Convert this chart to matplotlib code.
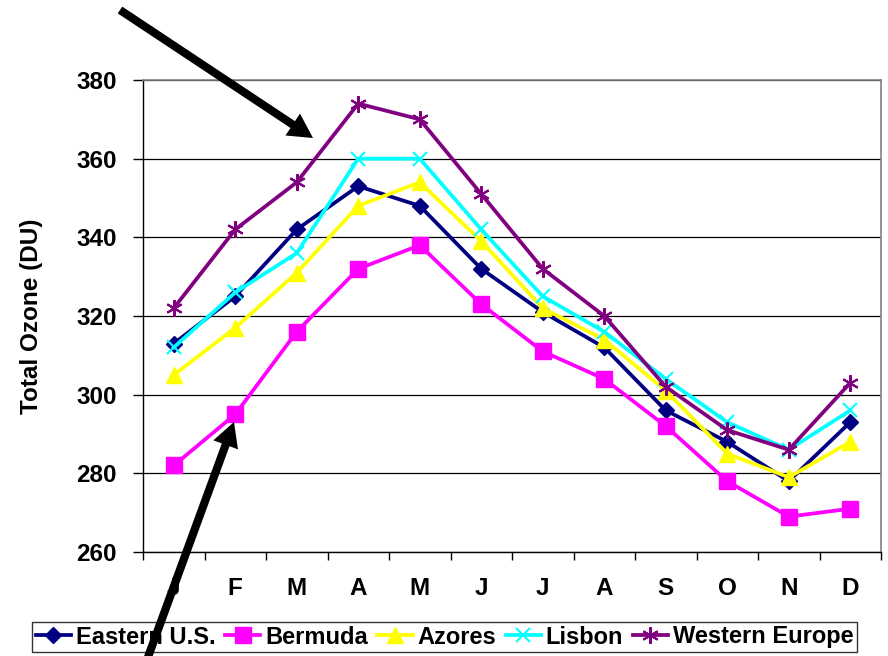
import matplotlib
matplotlib.use('Agg')
import matplotlib.pyplot as plt
from matplotlib.patches import FancyArrowPatch
from matplotlib.ticker import FixedLocator

plt.rcParams['font.family'] = ['Liberation Sans', 'DejaVu Sans']
plt.rcParams['font.weight'] = 'bold'

# monthly mean total ozone (DU)
months = ['J', 'F', 'M', 'A', 'M', 'J', 'J', 'A', 'S', 'O', 'N', 'D']
eastern_us = [313, 325, 342, 353, 348, 332, 321, 312, 296, 288, 278, 293]
bermuda = [282, 295, 316, 332, 338, 323, 311, 304, 292, 278, 269, 271]
azores = [305, 317, 331, 348, 354, 339, 322, 314, 301, 285, 279, 288]
lisbon = [312, 326, 336, 360, 360, 342, 325, 316, 304, 293, 286, 296]
western_europe = [322, 342, 354, 374, 370, 351, 332, 320, 302, 291, 286, 303]

series = [
    ('Eastern U.S.', eastern_us, '#000080', 'D', 8),
    ('Bermuda', bermuda, '#FF00FF', 's', 11),
    ('Azores', azores, '#FFFF00', '^', 11),
    ('Lisbon', lisbon, '#00FFFF', 'x', 10),
    ('Western Europe', western_europe, '#800080', (6, 2, 0), 12),
]

FS = 17.5
LEG_FS = 17.0

fig = plt.figure(figsize=(8.88, 6.56), dpi=100)
ax = fig.add_axes([143 / 888, 1 - 552 / 656, 738 / 888, 472 / 656])

x = list(range(len(months)))
for name, vals, color, marker, ms in series:
    ax.plot(x, vals, color=color, lw=2.7, marker=marker, markersize=ms,
            markeredgewidth=1.5 if marker in ('x', (6, 2, 0)) else 1,
            markerfacecolor=color, markeredgecolor=color, label=name,
            clip_on=False, zorder=3)

ax.set_xlim(-0.5, 11.5)
ax.set_ylim(260, 380)
ax.set_yticks(range(260, 381, 20))
ax.yaxis.grid(True, color='black', lw=0.9)
ax.set_axisbelow(True)

ax.set_xticks(x)
ax.set_xticklabels(months, fontsize=FS, fontweight='bold')
ax.xaxis.set_minor_locator(FixedLocator([i - 0.5 for i in range(13)]))
ax.tick_params(axis='x', which='major', length=0, pad=18)
ax.tick_params(axis='x', which='minor', length=6, width=1, direction='out')
ax.tick_params(axis='y', length=7, width=1, pad=12, labelsize=FS)
for lab in ax.get_yticklabels():
    lab.set_fontweight('bold')

ax.set_ylabel('Total Ozone (DU)', fontsize=FS, fontweight='bold', labelpad=24)

for side in ('top', 'right'):
    ax.spines[side].set_color('#808080')
    ax.spines[side].set_linewidth(1.2)
for side in ('left', 'bottom'):
    ax.spines[side].set_color('black')
    ax.spines[side].set_linewidth(1)

leg = fig.legend(loc='center', bbox_to_anchor=(444.5 / 888, 1 - 637 / 656),
                 ncol=5, frameon=True, fancybox=False,
                 handlelength=1.5, handletextpad=0.2, columnspacing=0.4,
                 borderpad=0.15, borderaxespad=0,
                 prop={'weight': 'bold', 'size': LEG_FS})
leg.get_frame().set_edgecolor('black')
leg.get_frame().set_linewidth(1)

# callout arrows
arrow_style = 'simple,head_length=1.25,head_width=1.35,tail_width=0.42'
for tail, head in [((120, 10), (313, 138)), ((144, 668), (234, 422))]:
    arr = FancyArrowPatch((tail[0] / 888, 1 - tail[1] / 656),
                          (head[0] / 888, 1 - head[1] / 656),
                          transform=fig.transFigure, arrowstyle=arrow_style,
                          mutation_scale=14, color='black', lw=0,
                          shrinkA=0, shrinkB=0, zorder=10)
    fig.add_artist(arr)

fig.savefig('out.png', dpi=100, facecolor='white')
